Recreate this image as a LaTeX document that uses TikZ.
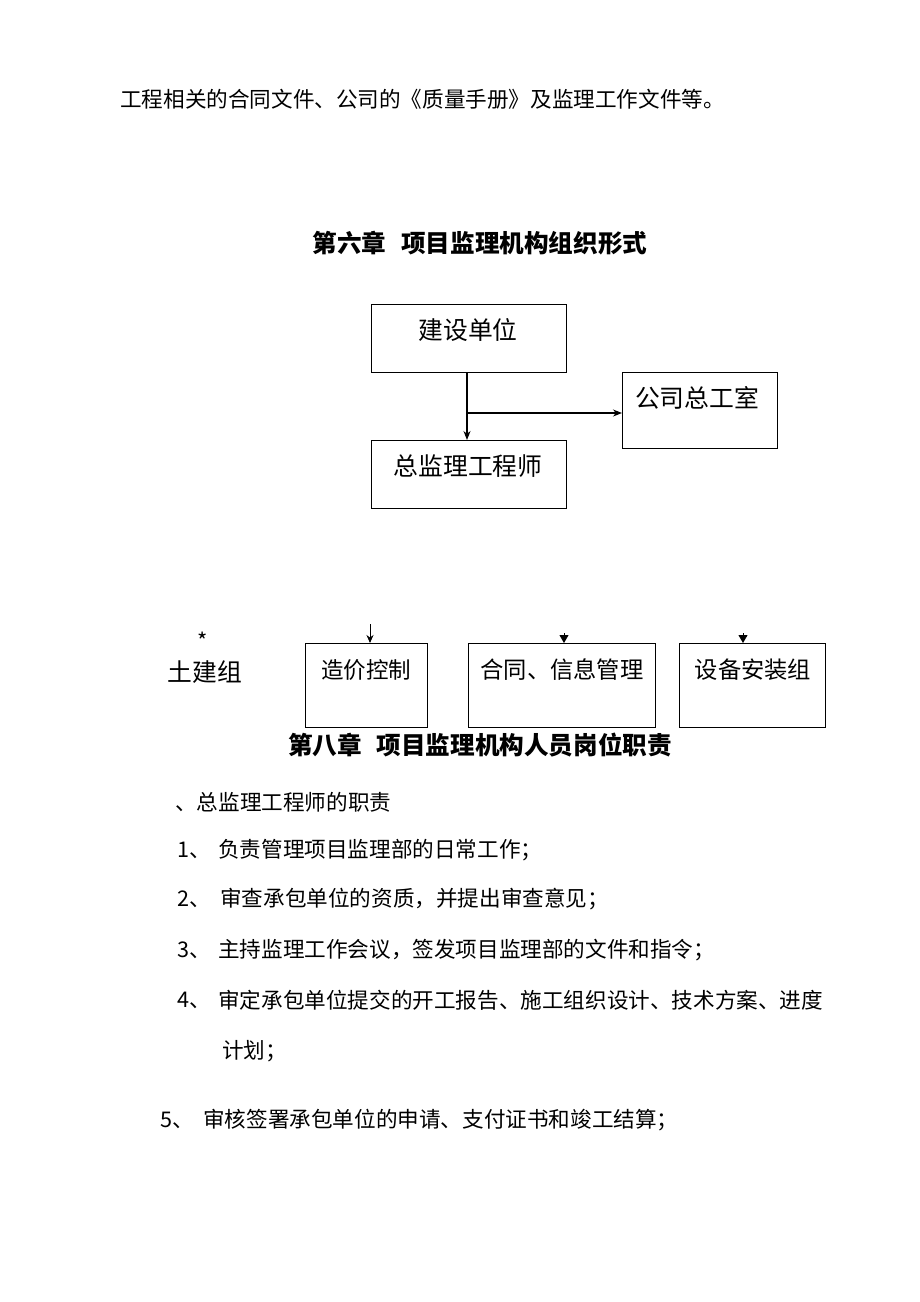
\documentclass[tikz,border=0pt]{standalone}
\usepackage{fontspec}
\setmainfont{Noto Sans CJK SC}
\usetikzlibrary{arrows.meta}
\tikzset{
  box/.style={draw=black, line width=1.1pt, anchor=north west, inner sep=0pt},
  boxtext/.style={font=\fontsize{24.8}{24.8}\selectfont, inner sep=0pt},
  boxtextb/.style={font=\fontsize{23.3}{23.3}\selectfont, inner sep=0pt},
  body/.style={font=\fontsize{21.6}{21.6}\selectfont, anchor=west, inner sep=0pt},
  head/.style={font=\fontsize{24.6}{24.6}\selectfont\bfseries, inner sep=0pt},
  arr/.style={line width=1.1pt, -{Stealth[length=9pt,width=7pt]}},
  tri/.style={-{Triangle[length=8pt,width=9pt]}, line width=0.8pt}
}
\begin{document}
\begin{tikzpicture}[x=1pt,y=-1pt]
\useasboundingbox[fill=white] (0,0) rectangle (920,1302);
\node[body] (l0) at (120,99) {工程相关的合同文件、公司的《质量手册》及监理工作文件等。};
\node[head] (h6) at (480,243) {第六章\hspace{0.6em}项目监理机构组织形式};
% boxes
\node[box, minimum width=195, minimum height=68] (js) at (371,304) {};
\node[boxtext] (jst) at (468,330) {建设单位};
\node[box, minimum width=155, minimum height=76] (gs) at (622,372) {};
\node[boxtext] (gst) at (697,398) {公司总工室};
\node[box, minimum width=195, minimum height=68] (zj) at (371,440) {};
\node[boxtext] (zjt) at (468,466) {总监理工程师};
\coordinate (jn) at (467,413);
\draw[arr] (js.south -| jn) -- (zj.north -| jn);
\draw[arr] (jn) -- (gs.west |- jn);
% bottom row
\node[boxtext, font=\fontsize{22}{22}\selectfont] (star) at (203,641) {*};
\node[boxtext] (tj) at (205,672) {土建组};
\node[box, minimum width=122, minimum height=84] (zx) at (305,643) {};
\node[boxtextb, font=\fontsize{22.5}{22.5}\selectfont] (zxt) at (366,670) {造价控制};
\node[box, minimum width=187, minimum height=84] (ht) at (468,643) {};
\node[boxtextb] (htt) at (562,670) {合同、信息管理};
\node[box, minimum width=146, minimum height=84] (sb) at (679,643) {};
\node[boxtextb] (sbt) at (753,670) {设备安装组};
\coordinate (a1) at (370,624);
\coordinate (a2) at (564,633);
\coordinate (a3) at (743,633);
\draw[arr, -{Stealth[length=8pt,width=7pt]}, line width=0.9pt] (a1) -- (zx.north -| a1);
\draw[tri] (a2) -- (ht.north -| a2);
\draw[tri] (a3) -- (sb.north -| a3);
\node[head] (h8) at (480,745) {第八章\hspace{0.6em}项目监理机构人员岗位职责};
\node[body] (p0) at (175,802) {、总监理工程师的职责};
\node[body] (n1) at (177,850) {1、};
\node[body] (t1) at (218,850) {负责管理项目监理部的日常工作；};
\node[body] (n2) at (177,899) {2、};
\node[body] (t2) at (220,899) {审查承包单位的资质，并提出审查意见；};
\node[body] (n3) at (177,950) {3、};
\node[body] (t3) at (218,950) {主持监理工作会议，签发项目监理部的文件和指令；};
\node[body] (n4) at (177,1000) {4、};
\node[body] (t4) at (218,1000) {审定承包单位提交的开工报告、施工组织设计、技术方案、进度};
\node[body] (t4b) at (222,1051) {计划；};
\node[body] (n5) at (160,1120) {5、};
\node[body] (t5) at (203,1120) {审核签署承包单位的申请、支付证书和竣工结算；};
\end{tikzpicture}
\end{document}
